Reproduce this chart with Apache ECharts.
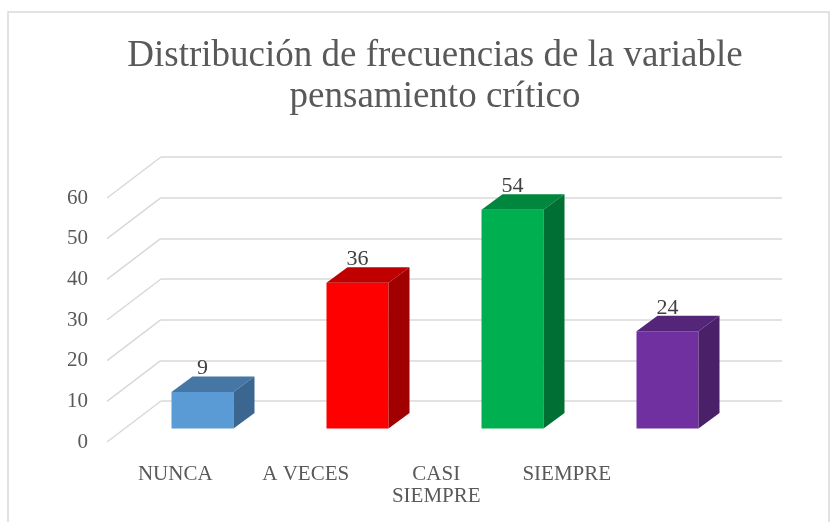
<!DOCTYPE html>
<html>
<head>
<meta charset="utf-8">
<script src="https://cdn.jsdelivr.net/npm/echarts@6/dist/echarts.min.js"></script>
<style>
  html, body { margin: 0; padding: 0; background: #fff; }
  #chart { width: 837px; height: 522px; }
</style>
</head>
<body>
<div id="chart"></div>
<script>
// datos
var categories = ['NUNCA', 'A VECES', 'CASI\nSIEMPRE', 'SIEMPRE'];
var frequencies = [9, 36, 54, 24];
var tickValues = [0, 10, 20, 30, 40, 50, 60];

// colores de las caras (frente, tapa, lado)
var faceColors = [
    { front: '#5B9BD5', top: '#4676A3', side: '#3A6690' },
    { front: '#FF0000', top: '#C00000', side: '#A00000' },
    { front: '#00B050', top: '#00873D', side: '#006F33' },
    { front: '#7030A0', top: '#55257A', side: '#4A2069' }
];

var FONT = 'Liberation Serif';
var TXT = '#595959';
var GRIDLINE = '#D9D9D9';

var chart = echarts.init(document.getElementById('chart'));

var option = {
    animation: false,
    backgroundColor: '#fff',
    textStyle: { fontFamily: FONT },
    title: {
        text: 'Distribución de frecuencias de la variable\npensamiento crítico',
        left: 430,
        top: 31,
        textAlign: 'center',
        textStyle: {
            fontFamily: FONT,
            fontSize: 37,
            fontWeight: 'normal',
            color: TXT,
            lineHeight: 41
        }
    },
    graphic: [{
        type: 'rect',
        shape: { x: 8, y: 12, width: 821, height: 530 },
        style: { fill: 'none', stroke: GRIDLINE, lineWidth: 1.5 },
        silent: true
    }],
    grid: [
        // pared del fondo
        { left: 161, right: 55, top: 157, bottom: 121 },
        // etiquetas del eje Y (borde frontal)
        { left: 107, right: 55, top: 198, bottom: 80 },
        // barras
        { left: 125, right: 92, top: 185.5, bottom: 93.5 },
        // etiquetas de categorias
        { left: 110, right: 205, top: 300, bottom: 63 }
    ],
    xAxis: [
        { gridIndex: 0, type: 'value', min: 0, max: 1, show: false },
        { gridIndex: 1, type: 'value', min: 0, max: 1, show: false },
        { gridIndex: 2, type: 'category', data: categories, show: false },
        {
            gridIndex: 3, type: 'category', data: categories,
            axisLine: { show: false }, axisTick: { show: false },
            axisLabel: {
                margin: 4, fontFamily: FONT, fontSize: 21, color: TXT,
                lineHeight: 22, interval: 0
            }
        }
    ],
    yAxis: [
        {
            gridIndex: 0, type: 'value', min: 0, max: 60, interval: 10,
            axisLine: { show: false }, axisTick: { show: false },
            axisLabel: { show: false },
            splitLine: { lineStyle: { color: GRIDLINE, width: 1.5 } }
        },
        {
            gridIndex: 1, type: 'value', min: 0, max: 60, interval: 10,
            axisLine: { show: false }, axisTick: { show: false },
            splitLine: { show: false },
            axisLabel: { margin: 19, fontFamily: FONT, fontSize: 21, color: TXT }
        },
        { gridIndex: 2, type: 'value', min: 0, max: 60, show: false },
        { gridIndex: 3, type: 'value', show: false }
    ],
    series: [
        {
            // lineas diagonales del piso/lateral
            type: 'custom',
            xAxisIndex: 0,
            yAxisIndex: 0,
            silent: true,
            data: tickValues.map(function (v) { return [0, v]; }),
            renderItem: function (params, api) {
                var p = api.coord([0, api.value(1)]);
                return {
                    type: 'line',
                    shape: { x1: p[0], y1: p[1], x2: p[0] - 54, y2: p[1] + 41 },
                    style: { stroke: GRIDLINE, lineWidth: 1.5 }
                };
            }
        },
        {
            type: 'custom',
            xAxisIndex: 2,
            yAxisIndex: 2,
            data: frequencies.map(function (v, i) { return [i, v]; }),
            renderItem: function (params, api) {
                var idx = api.value(0);
                var val = api.value(1);
                var top = api.coord([idx, val]);
                var base = api.coord([idx, 0]);
                var w = 62, dx = 21, dy = -15.5;
                var x0 = top[0] - w / 2, x1 = top[0] + w / 2;
                var c = faceColors[idx];
                return {
                    type: 'group',
                    children: [
                        {
                            type: 'rect',
                            shape: { x: x0, y: top[1], width: w, height: base[1] - top[1] },
                            style: { fill: c.front }
                        },
                        {
                            type: 'polygon',
                            shape: { points: [[x0, top[1]], [x0 + dx, top[1] + dy], [x1 + dx, top[1] + dy], [x1, top[1]]] },
                            style: { fill: c.top }
                        },
                        {
                            type: 'polygon',
                            shape: { points: [[x1, top[1]], [x1 + dx, top[1] + dy], [x1 + dx, base[1] + dy], [x1, base[1]]] },
                            style: { fill: c.side }
                        },
                        {
                            type: 'text',
                            x: top[0],
                            y: top[1] + dy + 3,
                            style: {
                                text: String(val),
                                align: 'center',
                                verticalAlign: 'bottom',
                                fontFamily: FONT,
                                fontSize: 22,
                                fill: '#404040'
                            }
                        }
                    ]
                };
            }
        }
    ]
};

chart.setOption(option);
</script>
</body>
</html>
